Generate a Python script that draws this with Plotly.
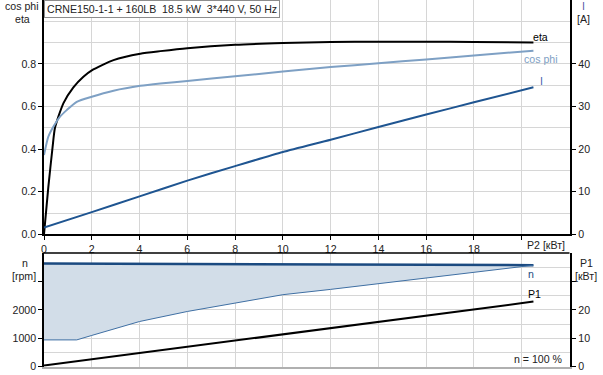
import plotly.graph_objects as go

# ---------------- data ----------------
p2_eta = [0, 0.18, 0.36, 0.46, 0.81, 1.23, 1.65, 2.0, 2.91, 4.03, 4.87, 6.0, 8.0, 10.0, 12.0, 14.0, 16.0, 18.0, 20.49]
eta = [0.0, 0.22, 0.41, 0.5, 0.615, 0.69, 0.74, 0.77, 0.818, 0.848, 0.86, 0.874, 0.89, 0.898, 0.903, 0.904, 0.904, 0.903, 0.90]

p2_cos = [0, 0.18, 0.39, 0.67, 0.95, 1.37, 2.0, 2.91, 4.03, 4.87, 6, 8, 10, 12, 14, 16, 18, 20.49]
cos_phi = [0.372, 0.458, 0.505, 0.552, 0.583, 0.622, 0.646, 0.674, 0.697, 0.708, 0.72, 0.742, 0.764, 0.785, 0.803, 0.821, 0.840, 0.862]

p2_i = [0, 2, 4, 6, 8, 10, 12, 14, 16, 18, 20.49]
current = [1.6, 5.2, 8.9, 12.6, 16.0, 19.3, 22.2, 25.2, 28.1, 31.0, 34.5]

p2_nmax = [0, 4, 8, 12, 16, 20.49]
n_max = [3630, 3625, 3615, 3605, 3590, 3570]

p2_nmin = [0, 1.37, 2, 3, 4, 6, 8, 10, 12, 14, 16, 18, 20.49]
n_min = [943, 943, 1100, 1345, 1590, 1943, 2240, 2533, 2720, 2920, 3120, 3320, 3570]

p2_p1 = [0, 2, 4, 6, 8, 10, 12, 14, 16, 18, 20.49]
p1 = [0.4, 2.6, 4.7, 6.9, 9.0, 11.4, 13.4, 15.6, 17.8, 20.0, 22.9]

x_ticks = [0, 2, 4, 6, 8, 10, 12, 14, 16, 18, 20]
x_ticktext = ["0", "2", "4", "6", "8", "10", "12", "14", "16", "18", ""]
eta_ticks = [0, 0.2, 0.4, 0.6, 0.8]
eta_ticktext = ["0.0", "0.2", "0.4", "0.6", "0.8"]
i_ticks = [0, 10, 20, 30, 40]
n_ticks = [0, 1000, 2000, 3000]
n_ticktext = ["0", "1000", "2000", ""]
p1_ticks = [0, 10, 20, 30]
p1_ticktext = ["0", "10", "20", ""]

# ---------------- styling ----------------
W, H = 603, 375
FONT = "Liberation Sans, Arial, sans-serif"
FS = 10.6
GRID = "#d6d6d6"
C_ETA = "#000000"
C_COS = "#7ea0c4"
C_I = "#1f5591"
C_NMAX = "#1b4a80"
C_NMIN = "#3f6fa3"
C_FILL = "#d2dde8"

def px_x(p):
    return p / W

def px_y(p):
    return 1 - p / H

x_dom = [px_x(44), px_x(569.5)]
top_dom = [px_y(234.3), 1.0]
bot_dom = [px_y(366.7), px_y(253)]

fig = go.Figure()

fig.add_trace(go.Scatter(x=p2_eta, y=eta, mode="lines", line=dict(color=C_ETA, width=2, shape="spline", smoothing=0.6),
                         xaxis="x", yaxis="y", hoverinfo="skip"))
fig.add_trace(go.Scatter(x=p2_cos, y=cos_phi, mode="lines", line=dict(color=C_COS, width=2, shape="spline", smoothing=0.6),
                         xaxis="x", yaxis="y", hoverinfo="skip"))
fig.add_trace(go.Scatter(x=p2_i, y=current, mode="lines", line=dict(color=C_I, width=2, shape="spline", smoothing=0.6),
                         xaxis="x", yaxis="y2", hoverinfo="skip"))

fig.add_trace(go.Scatter(x=p2_nmax, y=n_max, mode="lines", line=dict(color=C_NMAX, width=2.5),
                         xaxis="x2", yaxis="y3", hoverinfo="skip"))
fig.add_trace(go.Scatter(x=p2_nmin, y=n_min, mode="lines", line=dict(color=C_NMIN, width=1),
                         fill="tonexty", fillcolor=C_FILL,
                         xaxis="x2", yaxis="y3", hoverinfo="skip"))
fig.add_trace(go.Scatter(x=p2_p1, y=p1, mode="lines", line=dict(color="#000000", width=2),
                         xaxis="x2", yaxis="y4", hoverinfo="skip"))

tickfont = dict(family=FONT, size=FS, color="#222222")

fig.update_layout(
    width=W, height=H,
    margin=dict(l=0, r=0, t=0, b=0, autoexpand=False),
    paper_bgcolor="white", plot_bgcolor="white",
    showlegend=False,
    font=dict(family=FONT, size=FS, color="#222222"),
    xaxis=dict(domain=x_dom, range=[0, 22], anchor="y", automargin=False,
               tickmode="array", tickvals=x_ticks, ticktext=x_ticktext,
               ticks="outside", ticklen=4, tickcolor="#000",
               showgrid=True, gridcolor=GRID, gridwidth=1, zeroline=False,
               showline=True, linecolor="#000", linewidth=1.5, tickfont=tickfont),
    yaxis=dict(domain=top_dom, range=[0, 1.1], anchor="x", automargin=False,
               tickmode="array", tickvals=eta_ticks, ticktext=eta_ticktext,
               ticks="outside", ticklen=4, tickcolor="#000",
               showgrid=True, gridcolor=GRID, gridwidth=1, zeroline=False,
               minor=dict(tickmode="array", tickvals=[0.1, 0.3, 0.5, 0.7, 0.9, 1.0],
                          showgrid=True, gridcolor=GRID, gridwidth=1, ticks=""),
               showline=True, linecolor="#000", linewidth=1.5, tickfont=tickfont),
    yaxis2=dict(range=[0, 55], overlaying="y", side="right", anchor="x", automargin=False,
                tickmode="array", tickvals=i_ticks,
                ticks="outside", ticklen=5, tickcolor="#000",
                showgrid=False, zeroline=False,
                showline=True, linecolor="#000", linewidth=1.5, tickfont=tickfont),
    xaxis2=dict(domain=x_dom, range=[0, 22], anchor="y3", automargin=False,
                tickmode="array", tickvals=x_ticks, showticklabels=False,
                showgrid=True, gridcolor=GRID, gridwidth=1, zeroline=False,
                showline=True, linecolor="#b0b0b0", linewidth=2),
    yaxis3=dict(domain=bot_dom, range=[0, 4000], anchor="x2", automargin=False,
                tickmode="array", tickvals=n_ticks, ticktext=n_ticktext,
                ticks="outside", ticklen=4, tickcolor="#000",
                showgrid=True, gridcolor=GRID, gridwidth=1, zeroline=False,
                minor=dict(tickmode="array", tickvals=[500, 1500, 2500, 3500],
                           showgrid=True, gridcolor=GRID, gridwidth=1, ticks=""),
                showline=True, linecolor="#000", linewidth=1.5, tickfont=tickfont),
    yaxis4=dict(range=[0, 40], overlaying="y3", side="right", anchor="x2", automargin=False,
                tickmode="array", tickvals=p1_ticks, ticktext=p1_ticktext,
                ticks="outside", ticklen=5, tickcolor="#000",
                showgrid=False, zeroline=False,
                showline=True, linecolor="#000", linewidth=1.5, tickfont=tickfont),
)

# top border of lower panel
fig.add_shape(type="line", xref="x2 domain", yref="y3 domain", x0=0, x1=1, y0=1, y1=1,
              line=dict(color="#000", width=1.5))

def ann(text, x, y, color="#222222", xanchor="center", yanchor="middle", size=FS, **kw):
    fig.add_annotation(text=text, x=px_x(x), y=px_y(y), xref="paper", yref="paper",
                       showarrow=False, xanchor=xanchor, yanchor=yanchor,
                       font=dict(family=FONT, size=size, color=color), **kw)

# title box
fig.add_annotation(text="CRNE150-1-1 + 160LB\u00a0\u00a018.5 kW\u00a0\u00a03*440 V, 50 Hz",
                   x=px_x(44), y=1.0, xref="paper", yref="paper", showarrow=False,
                   xanchor="left", yanchor="top",
                   font=dict(family=FONT, size=FS, color="#222222"),
                   bgcolor="white", bordercolor="#8c8c8c", borderwidth=1, borderpad=2)

# axis titles
ann("cos phi", 22, 6)
ann("eta", 22, 19)
ann("I", 583, 6, color="#5a58a8")
ann("[A]", 583, 19)
ann("n", 25, 263)
ann("[rpm]", 24, 276)
ann("P1", 586, 263)
ann("[кВт]", 586, 276)
ann("P2 [кВт]", 567, 245, xanchor="right")

# curve labels
ann("eta", 540, 37, color="#000000")
ann("cos phi", 541, 59, color=C_COS)
ann("I", 541, 81, color="#4a5fb0")
ann("n", 531, 274, color=C_NMAX)
ann("P1", 534, 294, color="#000000")
ann("n = 100 %", 565, 359, xanchor="right")

fig.write_html("out.html", config={"displayModeBar": False},
               post_script="document.body.style.margin='0';document.body.style.padding='0';")
